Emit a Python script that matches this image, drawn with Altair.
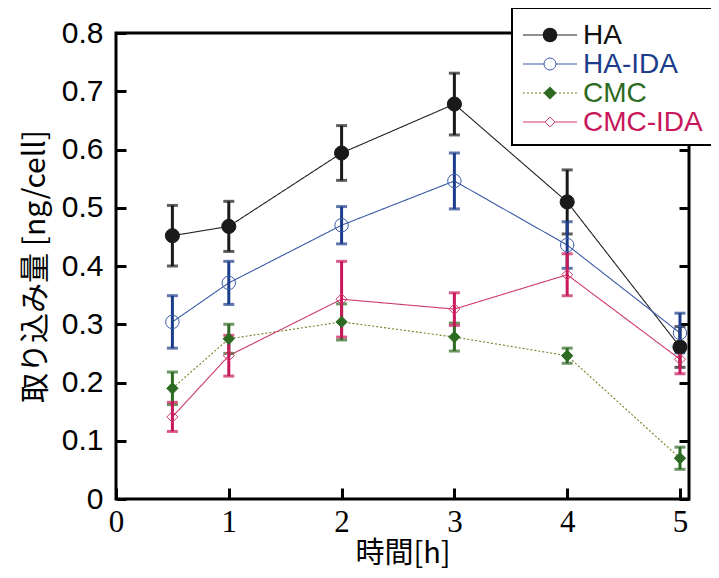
import altair as alt
import pandas as pd

# ---- data ----
times = [0.5, 1, 2, 3, 4, 5]
series_names = ["HA", "HA-IDA", "CMC", "CMC-IDA"]

ha_mean = [0.452, 0.468, 0.594, 0.678, 0.510, 0.261]
ha_err = [0.052, 0.043, 0.047, 0.053, 0.055, 0.035]
haida_mean = [0.304, 0.371, 0.470, 0.546, 0.436, 0.285]
haida_err = [0.045, 0.037, 0.032, 0.048, 0.040, 0.034]
cmc_mean = [0.190, 0.275, 0.304, 0.278, 0.246, 0.070]
cmc_err = [0.028, 0.025, 0.031, 0.024, 0.013, 0.019]
cmcida_mean = [0.141, 0.246, 0.343, 0.326, 0.385, 0.240]
cmcida_err = [0.025, 0.035, 0.065, 0.028, 0.036, 0.025]

x_ticks = [0, 1, 2, 3, 4, 5]
y_ticks = [0, 0.1, 0.2, 0.3, 0.4, 0.5, 0.6, 0.7, 0.8]

# ---- styles ----
bar_colors = ["#1a1a1a", "#1c3d8c", "#2d6a22", "#c8175a"]
line_colors = ["#222222", "#3b5aa6", "#7a7f2a", "#cf3a6a"]
marker_shapes = ["circle", "circle", "diamond", "diamond"]
marker_filled = [True, False, True, False]
marker_sizes = [200, 180, 130, 120]
line_dash = [[1, 0], [1, 0], [2, 2], [1, 0]]
text_colors = ["#111111", "#1c3d8c", "#2d6a22", "#c8175a"]

means = [ha_mean, haida_mean, cmc_mean, cmcida_mean]
errs = [ha_err, haida_err, cmc_err, cmcida_err]

W, H = 573, 466
LAT = "Liberation Sans"
CJK = "Noto Sans CJK JP"

xscale = alt.Scale(domain=[0, 5.08], nice=False, zero=False)
yscale = alt.Scale(domain=[0, 0.8], nice=False)

x_axis_main = alt.Axis(
    values=x_ticks, format="d", labelFont="Liberation Sans Narrow", labelFontSize=31,
    labelColor="black", tickSize=11, tickWidth=3, tickColor="black", offset=-11,
    domain=False, grid=False, labelPadding=8, labelFlush=False,
    title="時間[h]", titleFont=CJK, titleFontSize=29, titleFontWeight="normal",
    titleColor="black", titlePadding=2,
)
y_axis_main = alt.Axis(
    values=y_ticks, labelExpr="datum.value == 0 ? '0' : format(datum.value, '.1f')",
    labelFont=LAT, labelFontSize=30, labelColor="black", tickSize=10, tickWidth=3,
    tickColor="black", offset=-10, domain=False, grid=False, labelPadding=13,
    title="取り込み量 [ng/cell]", titleFont=CJK, titleFontSize=30,
    titleFontWeight="normal", titleColor="black", titlePadding=11,
)
y_axis_right = alt.Axis(
    orient="right", values=y_ticks, labels=False, tickSize=10, tickWidth=3,
    tickColor="black", offset=-10, domain=False, grid=False, title=None,
)

layers = []
for i, name in enumerate(series_names):
    df = pd.DataFrame({"t": times, "v": means[i]})
    xa = x_axis_main if i == 0 else None
    if i == 0:
        ya = y_axis_main
    elif i == 1:
        ya = y_axis_right
    else:
        ya = None
    line = alt.Chart(df).mark_line(color=line_colors[i], strokeWidth=1.1, strokeDash=line_dash[i]).encode(
        x=alt.X("t:Q", scale=xscale, axis=xa),
        y=alt.Y("v:Q", scale=yscale, axis=ya),
    )
    layers.append(line)

for i, name in enumerate(series_names):
    df = pd.DataFrame({
        "t": times,
        "lo": [m - e for m, e in zip(means[i], errs[i])],
        "hi": [m + e for m, e in zip(means[i], errs[i])],
    })
    base = alt.Chart(df)
    rule = base.mark_rule(color=bar_colors[i], strokeWidth=3).encode(
        x=alt.X("t:Q", scale=xscale, axis=None),
        y=alt.Y("lo:Q", scale=yscale, axis=None),
        y2="hi:Q",
    )
    cap_lo = base.mark_tick(color=bar_colors[i], orient="horizontal", thickness=3, size=11).encode(
        x=alt.X("t:Q", scale=xscale, axis=None),
        y=alt.Y("lo:Q", scale=yscale, axis=None),
    )
    cap_hi = base.mark_tick(color=bar_colors[i], orient="horizontal", thickness=3, size=11).encode(
        x=alt.X("t:Q", scale=xscale, axis=None),
        y=alt.Y("hi:Q", scale=yscale, axis=None),
    )
    layers += [rule, cap_lo, cap_hi]

for i, name in enumerate(series_names):
    df = pd.DataFrame({"t": times, "v": means[i]})
    if marker_filled[i]:
        pt = alt.Chart(df).mark_point(
            shape=marker_shapes[i], filled=True, fill=bar_colors[i], stroke=bar_colors[i],
            strokeWidth=1, size=marker_sizes[i], opacity=1)
    else:
        pt = alt.Chart(df).mark_point(
            shape=marker_shapes[i], filled=False, stroke=line_colors[i],
            strokeWidth=1, size=marker_sizes[i], opacity=1)
    layers.append(pt.encode(
        x=alt.X("t:Q", scale=xscale, axis=None),
        y=alt.Y("v:Q", scale=yscale, axis=None),
    ))

# ---- legend (layout in pixels relative to the plot area) ----
one = pd.DataFrame({"k": [0]})
box = alt.Chart(one).mark_rect(fill="white", stroke="black", strokeWidth=2).encode(
    x=alt.value(396), x2=alt.value(640), y=alt.value(-25), y2=alt.value(112))
layers.append(box)
row_y = [2, 31, 60, 89]
for i, name in enumerate(series_names):
    ld = pd.DataFrame({"s": [name]})
    lr = alt.Chart(ld).mark_rule(color=line_colors[i], strokeWidth=1.1, strokeDash=line_dash[i]).encode(
        x=alt.value(407), x2=alt.value(461), y=alt.value(row_y[i]))
    if marker_filled[i]:
        lp = alt.Chart(ld).mark_point(shape=marker_shapes[i], filled=True, fill=bar_colors[i],
                                      stroke=bar_colors[i], size=marker_sizes[i] * 0.8, opacity=1)
    else:
        lp = alt.Chart(ld).mark_point(shape=marker_shapes[i], filled=True, fill="white",
                                      stroke=line_colors[i], strokeWidth=1,
                                      size=marker_sizes[i] * 0.8, opacity=1)
    lp = lp.encode(x=alt.value(434), y=alt.value(row_y[i]))
    lt = alt.Chart(ld).mark_text(align="left", baseline="middle", font=LAT, fontSize=28,
                                 color=text_colors[i]).encode(
        x=alt.value(467), y=alt.value(row_y[i] + 1), text="s:N")
    layers += [lr, lp, lt]

chart = alt.layer(*layers).resolve_axis(x="independent", y="independent").properties(
    width=W, height=H,
    background="white",
    autosize=alt.AutoSizeParams(type="none"),
    padding={"left": 108, "top": 25, "right": 22, "bottom": 71},
).configure_view(stroke="black", strokeWidth=3)

chart.save("out.html", embed_options={"renderer": "svg", "actions": False})
